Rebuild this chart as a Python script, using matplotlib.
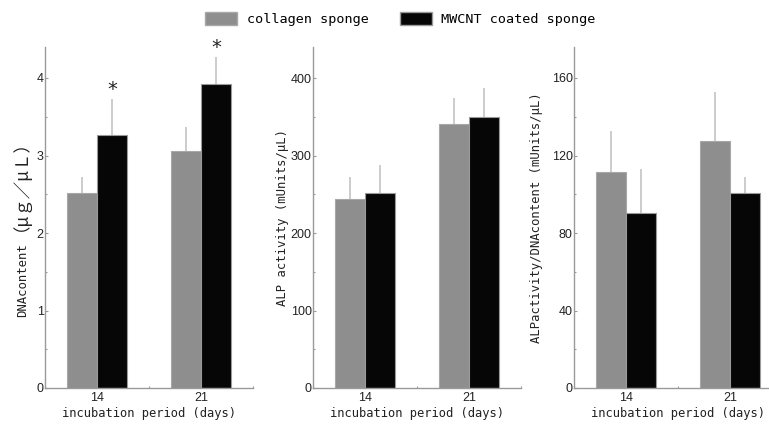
import matplotlib
matplotlib.use("Agg")
import matplotlib.pyplot as plt
from matplotlib.patches import Patch
from matplotlib.ticker import MultipleLocator
import numpy as np

# ---------------- data ----------------
days = ["14", "21"]
series_names = ["collagen sponge", "MWCNT coated sponge"]

dna_collagen = [2.52, 3.06]
dna_collagen_err = [0.20, 0.31]
dna_mwcnt = [3.26, 3.92]
dna_mwcnt_err = [0.47, 0.35]
dna_sig = [True, True]

alp_collagen = [243.5, 340.5]
alp_collagen_err = [29.0, 34.0]
alp_mwcnt = [251.5, 350.0]
alp_mwcnt_err = [36.0, 37.7]

ratio_collagen = [111.3, 127.3]
ratio_collagen_err = [21.2, 25.3]
ratio_mwcnt = [90.2, 100.9]
ratio_mwcnt_err = [23.0, 8.2]

dna_label_main = "DNAcontent"
dna_label_unit = "（μｇ／μＬ）"
ylabels = [None, "ALP activity (mUnits/μL)",
           "ALPactivity/DNAcontent (mUnits/μL)"]
xlabel = "incubation period (days)"

# ---------------- style ----------------
GRAY = "#8e8e8e"
BLACK = "#060606"
ERR = "#c4c4c4"
AX = "#9a9a9a"
TXT = "#222222"
MONO = ["DejaVu Sans Mono", "Noto Sans CJK JP"]
TICKF = ["Liberation Sans Narrow", "Liberation Sans", "DejaVu Sans"]

W, H = 769, 426
fig = plt.figure(figsize=(W / 100, H / 100), dpi=100)

bottom_px, top_px = 388, 47
ax_h = (bottom_px - top_px) / H
ax_b = 1 - bottom_px / H
panels = [
    dict(left=45, ylim=4.4, major=1, minor=0.5,
         c=dna_collagen, ce=dna_collagen_err, m=dna_mwcnt, me=dna_mwcnt_err,
         sig=dna_sig, ylabel=ylabels[0], ylsize=8.8, ylx=21),
    dict(left=313, ylim=440, major=100, minor=50,
         c=alp_collagen, ce=alp_collagen_err, m=alp_mwcnt, me=alp_mwcnt_err,
         sig=None, ylabel=ylabels[1], ylsize=8.8, ylx=289),
    dict(left=574, ylim=176, major=40, minor=20,
         c=ratio_collagen, ce=ratio_collagen_err, m=ratio_mwcnt, me=ratio_mwcnt_err,
         sig=None, ylabel=ylabels[2], ylsize=8.8, ylx=543),
]

width_px = 208
bw = 0.29
x = np.arange(len(days))

for p in panels:
    ax = fig.add_axes([p["left"] / W, ax_b, width_px / W, ax_h])
    ax.bar(x - bw / 2, p["c"], bw, color=GRAY, edgecolor="#a8a8a8", linewidth=0.8, zorder=2)
    ax.bar(x + bw / 2, p["m"], bw, color=BLACK, edgecolor="#9a9a9a", linewidth=0.8, zorder=2)
    ax.errorbar(x - bw / 2, p["c"], yerr=[np.zeros(len(x)), p["ce"]], fmt="none",
                ecolor=ERR, elinewidth=1.2, capsize=0, zorder=1)
    ax.errorbar(x + bw / 2, p["m"], yerr=[np.zeros(len(x)), p["me"]], fmt="none",
                ecolor=ERR, elinewidth=1.2, capsize=0, zorder=1)
    if p["sig"] is not None:
        for xi, v, e, s in zip(x, p["m"], p["me"], p["sig"]):
            if s:
                ax.annotate("*", (xi + bw / 2, v + e), xytext=(0, 0),
                            textcoords="offset points", ha="center", va="bottom",
                            fontsize=14, family="DejaVu Sans", color=TXT)
    ax.set_xlim(-0.5, 1.5)
    ax.set_ylim(0, p["ylim"])
    ax.yaxis.set_major_locator(MultipleLocator(p["major"]))
    ax.yaxis.set_minor_locator(MultipleLocator(p["minor"]))
    ax.set_xticks(x)
    ax.set_xticklabels(days)
    ax.xaxis.set_minor_locator(MultipleLocator(0.5))
    for s in ["top", "right"]:
        ax.spines[s].set_visible(False)
    for s in ["left", "bottom"]:
        ax.spines[s].set_color(AX)
        ax.spines[s].set_linewidth(1.0)
    ax.tick_params(axis="both", which="both", direction="in", color=AX, width=0.8)
    ax.tick_params(axis="both", which="major", length=2.5)
    ax.tick_params(axis="both", which="minor", length=1.5)
    ax.tick_params(axis="y", which="major", pad=1, labelsize=9, labelcolor=TXT)
    ax.tick_params(axis="x", which="major", pad=3, labelsize=9, labelcolor=TXT)
    for lab in ax.get_xticklabels() + ax.get_yticklabels():
        lab.set_family(TICKF)
    ax.set_xlabel(xlabel, family=MONO, fontsize=8.7, color=TXT, labelpad=2)
    if p["ylabel"] is not None:
        ax.set_ylabel(p["ylabel"], family=MONO, fontsize=p["ylsize"], color=TXT)
        ax.yaxis.set_label_coords((p["ylx"] - p["left"]) / width_px, 0.5)
    else:
        # two-part label: half-width text + full-width unit in a Japanese font
        fig.text(26 / W, 1 - 280 / H, dna_label_main, rotation=90,
                 rotation_mode="anchor", ha="center", va="baseline",
                 family=MONO, fontsize=p["ylsize"], color=TXT)
        fig.text(11 / W, 1 - 177 / H, dna_label_unit, rotation=90,
                 ha="center", va="center",
                 family=["Noto Sans CJK JP"], fontsize=12.5, color=TXT)
    ax.set_facecolor("none")

handles = [Patch(facecolor=GRAY, edgecolor="#a8a8a8", label=series_names[0]),
           Patch(facecolor=BLACK, edgecolor="#9a9a9a", label=series_names[1])]
fig.legend(handles=handles, loc="center left", bbox_to_anchor=(205 / W, 1 - 19 / H),
           ncol=2, frameon=False, borderpad=0, borderaxespad=0,
           handlelength=2.4, handleheight=1.1, handletextpad=0.7, columnspacing=2.3,
           prop={"family": MONO, "size": 9.7})

fig.savefig("out.png", dpi=100)
